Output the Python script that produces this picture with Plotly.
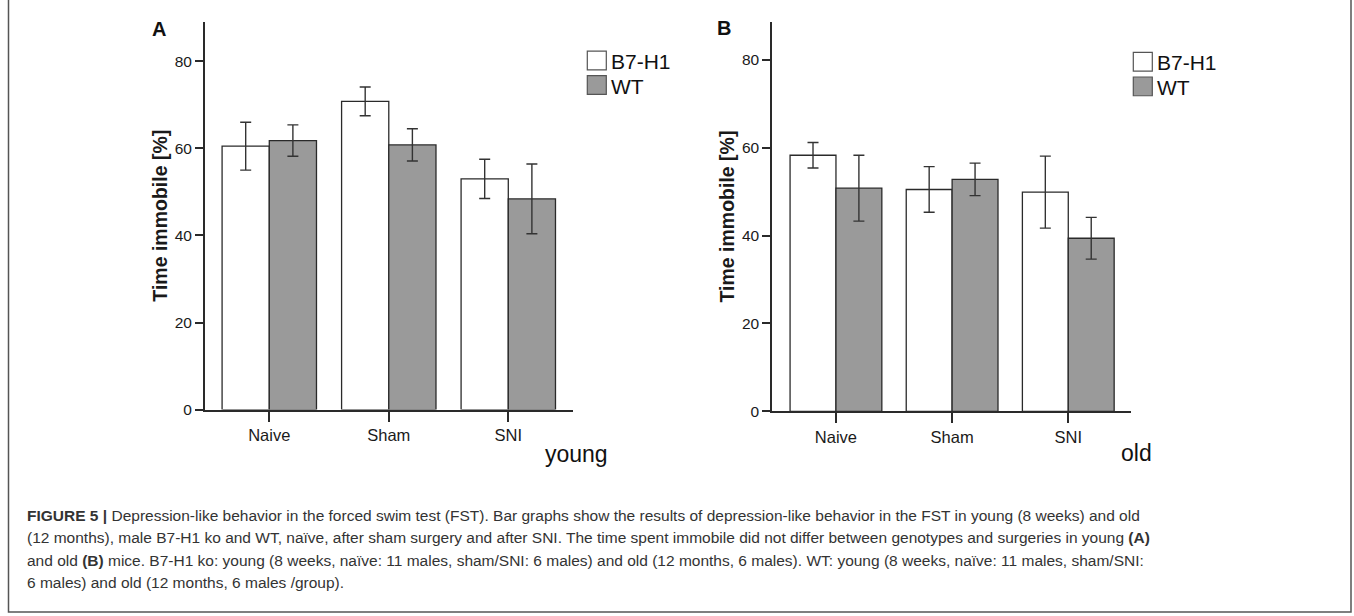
import plotly.graph_objects as go

W, H = 1354, 616

# Groups and genotypes
groups = ["Naive", "Sham", "SNI"]
genotypes = ["B7-H1", "WT"]

# Panel A (young): mean time immobile [%] and error
young_b7 = [60.5, 70.8, 53.0]
young_b7_err = [5.5, 3.3, 4.5]
young_wt = [61.8, 60.8, 48.4]
young_wt_err = [3.6, 3.7, 8.0]

# Panel B (old)
old_b7 = [58.3, 50.5, 49.9]
old_b7_err = [2.9, 5.2, 8.2]
old_wt = [50.8, 52.8, 39.4]
old_wt_err = [7.5, 3.7, 4.75]

y_ticks = [0, 20, 40, 60, 80]
y_title = "Time immobile [%]"

caption_lines = [
    "<b>FIGURE 5 |</b> Depression-like behavior in the forced swim test (FST). Bar graphs show the results of depression-like behavior in the FST in young (8 weeks) and old",
    "(12 months), male B7-H1 ko and WT, naïve, after sham surgery and after SNI. The time spent immobile did not differ between genotypes and surgeries in young <b>(A)</b>",
    "and old <b>(B)</b> mice. B7-H1 ko: young (8 weeks, naïve: 11 males, sham/SNI: 6 males) and old (12 months, 6 males). WT: young (8 weeks, naïve: 11 males, sham/SNI:",
    "6 males) and old (12 months, 6 males /group).",
]

FILL = {"B7-H1": "#ffffff", "WT": "#9a9a9a"}
LINE = "#2a2a2a"
FONT = "Liberation Sans, Arial, sans-serif"


def px(x):
    return x / W


def py(y):
    return 1 - y / H


fig = go.Figure()

panels = [
    dict(xa="x", ya="y", b7=young_b7, b7e=young_b7_err, wt=young_wt, wte=young_wt_err),
    dict(xa="x2", ya="y2", b7=old_b7, b7e=old_b7_err, wt=old_wt, wte=old_wt_err),
]

for p in panels:
    for name, vals, errs in [("B7-H1", p["b7"], p["b7e"]), ("WT", p["wt"], p["wte"])]:
        fig.add_trace(go.Bar(
            x=groups, y=vals, name=name, xaxis=p["xa"], yaxis=p["ya"],
            marker=dict(color=FILL[name], line=dict(color=LINE, width=1.3)),
            error_y=dict(type="data", array=errs, visible=True,
                         color="#333333", thickness=1.4, width=5.5),
            showlegend=False, hoverinfo="x+y",
        ))

axis_common = dict(
    showline=True, linecolor=LINE, linewidth=2, ticks="outside",
    tickcolor=LINE, tickwidth=1.5, showgrid=False, zeroline=False,
)

title_font = dict(size=19.5, color="#1a1a1a")

fig.update_layout(
    width=W, height=H,
    margin=dict(l=0, r=0, t=0, b=0),
    paper_bgcolor="white", plot_bgcolor="white",
    barmode="group", bargap=0.21, bargroupgap=0,
    font=dict(family=FONT, color="#1a1a1a"),
    xaxis=dict(domain=[px(205), px(572.7)], range=[-0.538, 2.539], anchor="y",
               ticklen=10, tickfont=dict(size=16.5, color="#1a1a1a"), **axis_common),
    yaxis=dict(domain=[py(415), py(22)], range=[0, 89.1], anchor="x",
               tickvals=y_ticks, ticklen=8, tickfont=dict(size=15.5, color="#1a1a1a"),
               title=dict(text="<b>" + y_title + "</b>", font=title_font, standoff=2),
               **axis_common),
    xaxis2=dict(domain=[px(772.3), px(1131)], range=[-0.548, 2.54], anchor="y2",
                ticklen=10, tickfont=dict(size=16.5, color="#1a1a1a"), **axis_common),
    yaxis2=dict(domain=[py(416.7), py(22)], range=[0, 88.7], anchor="x2",
                tickvals=y_ticks, ticklen=8, tickfont=dict(size=15.5, color="#1a1a1a"),
                title=dict(text="<b>" + y_title + "</b>", font=title_font, standoff=2),
                **axis_common),
)

shapes = []
annotations = []


def label(text, x, y, size, xanchor="center", color="#111111"):
    annotations.append(dict(text=text, x=px(x), y=py(y), xref="paper", yref="paper",
                            xanchor=xanchor, yanchor="middle", showarrow=False,
                            font=dict(size=size, color=color)))


# Outer frame (left and right edges visible)
shapes.append(dict(type="rect", xref="paper", yref="paper",
                   x0=px(8.5), x1=px(1351), y0=py(620), y1=py(-4),
                   line=dict(color="#555555", width=1.5), fillcolor="rgba(0,0,0,0)"))

# Panel letters
label("<b>A</b>", 158.5, 29, 20)
label("<b>B</b>", 723.5, 28, 20)

# Age labels
label("young", 543, 460, 23, xanchor="left")
label("old", 1119, 459, 23, xanchor="left")

# Legends drawn per panel
for bx, by in [(587.3, 51.7), (1133.3, 53.0)]:
    for i, name in enumerate(genotypes):
        y0 = by + i * 25
        shapes.append(dict(type="rect", xref="paper", yref="paper",
                           x0=px(bx), x1=px(bx + 19), y0=py(y0 + 19), y1=py(y0),
                           line=dict(color="#555555", width=1.2), fillcolor=FILL[name]))
        label(name, bx + 22, y0 + 10.5, 21, xanchor="left")

# Caption
for i, line in enumerate(caption_lines):
    annotations.append(dict(text=line, x=px(25), y=py(522 + i * 22.7),
                            xref="paper", yref="paper", xanchor="left", yanchor="middle",
                            showarrow=False, align="left",
                            font=dict(size=15.5, color="#333333", family=FONT)))

fig.update_layout(shapes=shapes, annotations=annotations)

fig.write_html("out.html")
